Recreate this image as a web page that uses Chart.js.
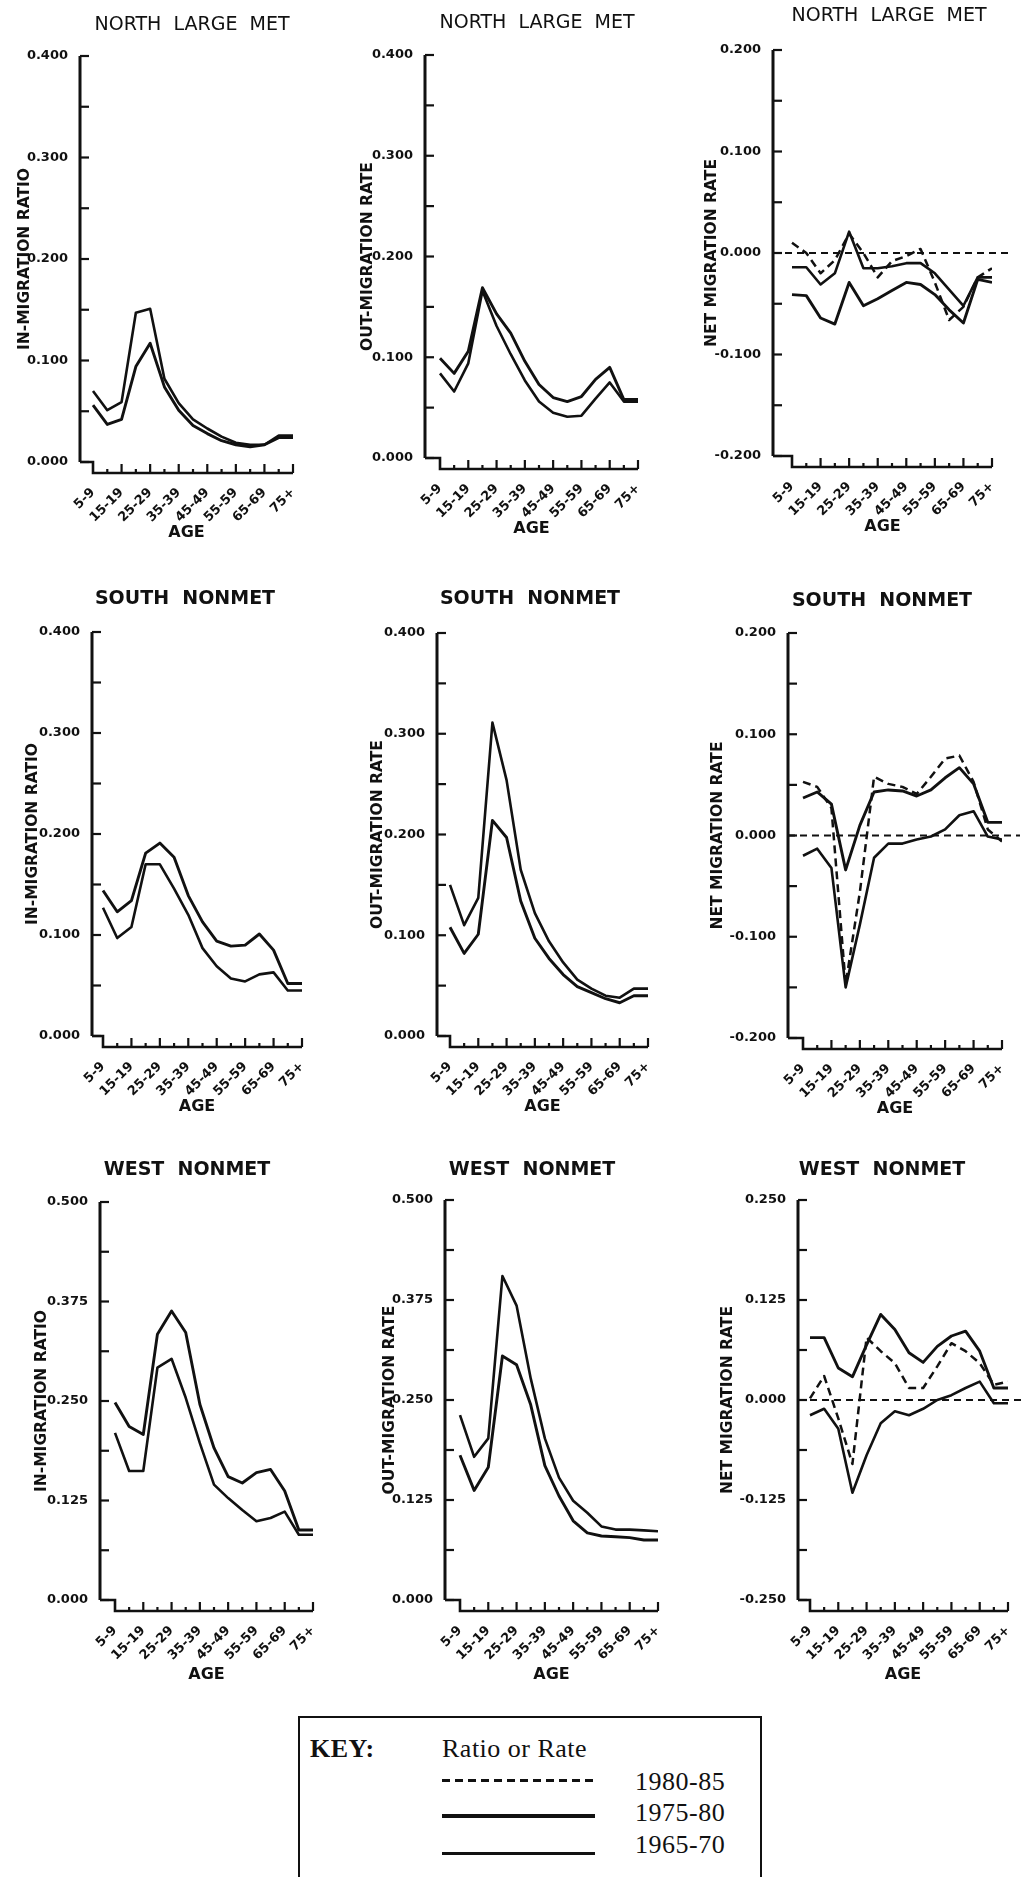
<!DOCTYPE html>
<html>
<head>
<meta charset="utf-8">
<title>Migration by age, 1965-85</title>
<script src="https://cdn.jsdelivr.net/npm/chart.js@4.4.1/dist/chart.umd.min.js"></script>
<style>
  html, body { margin: 0; padding: 0; background: #fff; }
  body { width: 1023px; height: 1877px; position: relative; overflow: hidden; }
  canvas { position: absolute; }
  #key { position: absolute; left: 298px; top: 1716px; width: 460px; height: 220px;
         border: 2px solid #111; border-bottom: none; color: #111;
         font-family: "Liberation Serif", serif; font-size: 26px; letter-spacing: 0.5px; }
  #key div { position: absolute; line-height: 26px; white-space: nowrap; }
  #key .sample { height: 2.5px; width: 153px; background: #111; }
</style>
</head>
<body>
<div id="key"></div>
<script>
// age groups on the x axis (every other one is labelled)
const ageGroups = ['5-9', '10-14', '15-19', '20-24', '25-29', '30-34', '35-39', '40-44',
                   '45-49', '50-54', '55-59', '60-64', '65-69', '70-74', '75+'];
const periods = ['1980-85', '1975-80', '1965-70'];

// y tick labels
const ticksRate = [0, 0.1, 0.2, 0.3, 0.4];
const ticksNet = [-0.2, -0.1, 0, 0.1, 0.2];
const ticksWest = [0, 0.125, 0.25, 0.375, 0.5];
const ticksWestNet = [-0.25, -0.125, 0, 0.125, 0.25];

// North large metro
const nlmIn6570 = [0.070, 0.051, 0.059, 0.147, 0.151, 0.082, 0.058, 0.042, 0.033, 0.025, 0.019, 0.017, 0.017, 0.026, 0.026];
const nlmIn7580 = [0.056, 0.037, 0.042, 0.094, 0.117, 0.074, 0.051, 0.036, 0.028, 0.021, 0.017, 0.015, 0.017, 0.024, 0.024];
const nlmOut7580 = [0.099, 0.084, 0.106, 0.169, 0.143, 0.124, 0.096, 0.073, 0.060, 0.056, 0.061, 0.078, 0.090, 0.058, 0.058];
const nlmOut6570 = [0.084, 0.066, 0.094, 0.166, 0.131, 0.103, 0.077, 0.056, 0.045, 0.041, 0.042, 0.059, 0.075, 0.056, 0.056];
const nlmNet8085 = [0.010, 0.000, -0.020, -0.007, 0.019, 0.000, -0.024, -0.008, -0.003, 0.004, -0.029, -0.066, -0.053, -0.024, -0.015];
const nlmNet6570 = [-0.014, -0.014, -0.031, -0.020, 0.021, -0.015, -0.015, -0.013, -0.010, -0.010, -0.020, -0.036, -0.052, -0.024, -0.024];
const nlmNet7580 = [-0.041, -0.042, -0.064, -0.070, -0.029, -0.052, -0.045, -0.037, -0.029, -0.031, -0.041, -0.056, -0.069, -0.026, -0.029];

// South nonmetro
const snIn7580 = [0.144, 0.123, 0.134, 0.181, 0.191, 0.177, 0.139, 0.113, 0.094, 0.089, 0.090, 0.101, 0.085, 0.052, 0.052];
const snIn6570 = [0.127, 0.097, 0.108, 0.170, 0.170, 0.146, 0.120, 0.087, 0.069, 0.057, 0.054, 0.061, 0.063, 0.045, 0.045];
const snOut6570 = [0.150, 0.110, 0.137, 0.311, 0.254, 0.165, 0.122, 0.094, 0.073, 0.056, 0.047, 0.040, 0.038, 0.047, 0.047];
const snOut7580 = [0.108, 0.082, 0.101, 0.214, 0.197, 0.134, 0.097, 0.077, 0.061, 0.049, 0.043, 0.037, 0.033, 0.040, 0.040];
const snNet8085 = [0.053, 0.048, 0.027, -0.147, -0.056, 0.058, 0.051, 0.048, 0.041, 0.058, 0.076, 0.079, 0.053, 0.006, -0.006];
const snNet7580 = [0.037, 0.043, 0.031, -0.034, 0.010, 0.043, 0.045, 0.044, 0.039, 0.045, 0.057, 0.067, 0.051, 0.013, 0.013];
const snNet6570 = [-0.020, -0.013, -0.032, -0.150, -0.088, -0.022, -0.008, -0.008, -0.004, -0.001, 0.006, 0.020, 0.024, -0.001, -0.004];

// West nonmetro
const wnIn7580 = [0.248, 0.218, 0.208, 0.334, 0.363, 0.336, 0.246, 0.191, 0.155, 0.147, 0.160, 0.164, 0.137, 0.088, 0.088];
const wnIn6570 = [0.210, 0.162, 0.162, 0.292, 0.303, 0.254, 0.197, 0.145, 0.128, 0.113, 0.099, 0.103, 0.111, 0.082, 0.082];
const wnOut6570 = [0.231, 0.179, 0.202, 0.405, 0.368, 0.277, 0.202, 0.153, 0.124, 0.109, 0.092, 0.088, 0.088, 0.087, 0.086];
const wnOut7580 = [0.181, 0.137, 0.166, 0.305, 0.294, 0.244, 0.168, 0.130, 0.099, 0.084, 0.080, 0.079, 0.078, 0.075, 0.075];
const wnNet8085 = [0.002, 0.030, -0.023, -0.080, 0.078, 0.061, 0.046, 0.015, 0.015, 0.042, 0.071, 0.061, 0.046, 0.019, 0.023];
const wnNet7580 = [0.078, 0.078, 0.040, 0.029, 0.069, 0.107, 0.088, 0.059, 0.047, 0.067, 0.080, 0.086, 0.061, 0.015, 0.015];
const wnNet6570 = [-0.019, -0.011, -0.036, -0.116, -0.069, -0.029, -0.014, -0.019, -0.011, 0.000, 0.006, 0.015, 0.023, -0.004, -0.004];

const ink = '#111';
const lineStyle = {
  '1980-85': { width: 2.5, dash: [8, 5] },
  '1975-80': { width: 2.9, dash: [] },
  '1965-70': { width: 2.6, dash: [] }
};

// where each panel sits on the page
const panels = [
  { title: 'NORTH  LARGE  MET', bold: false, yTitle: 'IN-MIGRATION RATIO', yTicks: ticksRate,
    series: [['1965-70', nlmIn6570], ['1975-80', nlmIn7580]],
    box: { axisX: 80, top: 56, bottom: 462, k0: 93, k14: 293, titleX: 192, titleY: 25, labX: 25, ageOff: 71 } },
  { title: 'NORTH  LARGE  MET', bold: false, yTitle: 'OUT-MIGRATION RATE', yTicks: ticksRate,
    series: [['1975-80', nlmOut7580], ['1965-70', nlmOut6570]],
    box: { axisX: 425, top: 55, bottom: 458, k0: 440, k14: 638, titleX: 537, titleY: 23, labX: 368, ageOff: 71 } },
  { title: 'NORTH  LARGE  MET', bold: false, yTitle: 'NET MIGRATION RATE', yTicks: ticksNet, zero: true,
    series: [['1980-85', nlmNet8085], ['1965-70', nlmNet6570], ['1975-80', nlmNet7580]],
    box: { axisX: 773, top: 50, bottom: 456, k0: 792, k14: 992, titleX: 889, titleY: 16, labX: 712, ageOff: 71 } },
  { title: 'SOUTH  NONMET', bold: true, yTitle: 'IN-MIGRATION RATIO', yTicks: ticksRate,
    series: [['1975-80', snIn7580], ['1965-70', snIn6570]],
    box: { axisX: 92, top: 632, bottom: 1036, k0: 103, k14: 302, titleX: 185, titleY: 599, labX: 33, ageOff: 71 } },
  { title: 'SOUTH  NONMET', bold: true, yTitle: 'OUT-MIGRATION RATE', yTicks: ticksRate,
    series: [['1965-70', snOut6570], ['1975-80', snOut7580]],
    box: { axisX: 437, top: 633, bottom: 1036, k0: 450, k14: 648, titleX: 530, titleY: 599, labX: 378, ageOff: 71 } },
  { title: 'SOUTH  NONMET', bold: true, yTitle: 'NET MIGRATION RATE', yTicks: ticksNet, zero: true,
    series: [['1980-85', snNet8085], ['1975-80', snNet7580], ['1965-70', snNet6570]],
    box: { axisX: 788, top: 633, bottom: 1038, k0: 803, k14: 1002, titleX: 882, titleY: 601, labX: 718, ageOff: 71 } },
  { title: 'WEST  NONMET', bold: true, yTitle: 'IN-MIGRATION RATIO', yTicks: ticksWest,
    series: [['1975-80', wnIn7580], ['1965-70', wnIn6570]],
    box: { axisX: 100, top: 1202, bottom: 1600, k0: 115, k14: 313, titleX: 187, titleY: 1170, labX: 42, ageOff: 75 } },
  { title: 'WEST  NONMET', bold: true, yTitle: 'OUT-MIGRATION RATE', yTicks: ticksWest,
    series: [['1965-70', wnOut6570], ['1975-80', wnOut7580]],
    box: { axisX: 445, top: 1200, bottom: 1600, k0: 460, k14: 658, titleX: 532, titleY: 1170, labX: 390, ageOff: 75 } },
  { title: 'WEST  NONMET', bold: true, yTitle: 'NET MIGRATION RATE', yTicks: ticksWestNet, zero: true,
    series: [['1980-85', wnNet8085], ['1975-80', wnNet7580], ['1965-70', wnNet6570]],
    box: { axisX: 798, top: 1200, bottom: 1600, k0: 810, k14: 1008, titleX: 882, titleY: 1170, labX: 728, ageOff: 75 } }
];

// stepped x axis, inward ticks, zero line and panel title
const migAxes = {
  id: 'migAxes',
  beforeDatasetsDraw(chart, args, opts) {
    if (!opts.zero) return;
    const { ctx, chartArea: a, scales: { y } } = chart;
    const pz = y.getPixelForValue(0);
    ctx.save();
    ctx.strokeStyle = ink;
    ctx.lineWidth = 2.2;
    ctx.setLineDash([7, 5]);
    ctx.beginPath();
    ctx.moveTo(a.left, pz);
    ctx.lineTo(a.right + 18, pz);
    ctx.stroke();
    ctx.restore();
  },
  afterDraw(chart, args, opts) {
    const { ctx, chartArea: a, scales: { x, y } } = chart;
    ctx.save();
    ctx.strokeStyle = ink;
    ctx.fillStyle = ink;

    ctx.lineWidth = 3;
    ctx.beginPath();
    ctx.moveTo(a.left, a.top);
    ctx.lineTo(a.left, a.bottom);
    ctx.stroke();

    ctx.lineWidth = 2.2;
    y.ticks.forEach(t => {
      const py = y.getPixelForValue(t.value);
      ctx.beginPath();
      ctx.moveTo(a.left, py);
      ctx.lineTo(a.left + 9, py);
      ctx.stroke();
    });

    const last = ageGroups.length - 1;
    const x0 = x.getPixelForValue(0);
    const xe = x.getPixelForValue(last);
    const yb = a.bottom + 11;
    ctx.lineWidth = 2.6;
    ctx.beginPath();
    ctx.moveTo(a.left, a.bottom);
    ctx.lineTo(x0, a.bottom);
    ctx.lineTo(x0, yb);
    ctx.lineTo(xe, yb);
    ctx.stroke();
    ctx.lineWidth = 2.2;
    for (let i = 1; i <= last; i++) {
      const px = x.getPixelForValue(i);
      ctx.beginPath();
      ctx.moveTo(px, yb);
      ctx.lineTo(px, yb - (i % 2 ? 4 : 9));
      ctx.stroke();
    }

    ctx.font = (opts.bold ? 'bold ' : '') + '19px "DejaVu Sans"';
    ctx.textAlign = 'center';
    ctx.textBaseline = 'middle';
    ctx.fillText(opts.title, opts.titleX, opts.titleY);
    ctx.restore();
  }
};

const tickFont = { family: 'DejaVu Sans', size: 13, weight: 'bold' };

panels.forEach(p => {
  const b = p.box;
  const left = b.axisX - 80;
  const top = b.top - 50;
  const w = b.k14 - b.axisX + 110;
  const h = b.bottom - b.top + 135;
  const cv = document.createElement('canvas');
  cv.width = w; cv.height = h;
  cv.style.left = left + 'px'; cv.style.top = top + 'px';
  cv.style.width = w + 'px'; cv.style.height = h + 'px';
  document.body.appendChild(cv);

  const step = (b.k14 - b.k0) / (ageGroups.length - 1);
  const isMajor = v => p.yTicks.some(m => Math.abs(m - v) < 1e-9);

  new Chart(cv, {
    type: 'line',
    data: {
      datasets: p.series.map(([period, values]) => ({
        label: period,
        data: values.map((v, i) => ({ x: i, y: v })),
        borderColor: ink,
        borderWidth: lineStyle[period].width,
        borderDash: lineStyle[period].dash,
        borderJoinStyle: 'round',
        pointRadius: 0,
        tension: 0,
        fill: false
      }))
    },
    options: {
      responsive: false,
      animation: false,
      devicePixelRatio: 1,
      layout: { padding: { top: 50, right: 30, bottom: 0, left: 0 } },
      plugins: {
        legend: { display: false },
        tooltip: { enabled: false },
        migAxes: { title: p.title, bold: p.bold, zero: !!p.zero,
                   titleX: b.titleX - left, titleY: b.titleY - top }
      },
      scales: {
        x: {
          type: 'linear',
          min: -(b.k0 - b.axisX) / step,
          max: ageGroups.length - 1,
          grid: { display: false },
          border: { display: false },
          afterBuildTicks: s => {
            s.ticks = ageGroups.map((_, i) => i).filter(i => i % 2 === 0).map(v => ({ value: v }));
          },
          afterFit: s => { s.height = 85; },
          ticks: {
            autoSkip: false, minRotation: 45, maxRotation: 45, padding: 15, color: ink,
            font: { family: 'DejaVu Sans', size: 13, weight: 'bold' },
            callback: v => ageGroups[v]
          },
          title: {
            display: true, text: 'AGE', color: ink,
            font: { family: 'DejaVu Sans', size: 16, weight: 'bold' },
            padding: { top: 0, bottom: Math.max(0, 85 - b.ageOff - 9.6) }
          }
        },
        y: {
          min: p.yTicks[0],
          max: p.yTicks[p.yTicks.length - 1],
          grid: { display: false },
          border: { display: false },
          afterBuildTicks: s => {
            const t = [];
            p.yTicks.forEach((v, i) => {
              t.push({ value: v });
              if (i < p.yTicks.length - 1) t.push({ value: (v + p.yTicks[i + 1]) / 2 });
            });
            s.ticks = t;
          },
          afterFit: s => { s.width = 80; },
          ticks: {
            autoSkip: false, padding: 4, color: ink, font: tickFont,
            callback: v => isMajor(v) ? v.toFixed(3) : ''
          },
          title: {
            display: true, text: p.yTitle, color: ink,
            font: { family: 'DejaVu Sans', size: 15.5, weight: 'bold' },
            padding: { top: b.labX - b.axisX + 71, bottom: 0 }
          }
        }
      }
    },
    plugins: [migAxes]
  });
});

// key box
const key = document.getElementById('key');
function keyItem(html, cls, css) {
  const d = document.createElement('div');
  if (cls) d.className = cls;
  d.innerHTML = html;
  Object.assign(d.style, css);
  key.appendChild(d);
}
keyItem('KEY:', '', { left: '10px', top: '18px', fontWeight: 'bold' });
keyItem('Ratio or Rate', '', { left: '142px', top: '18px' });
const sampleTops = [61, 96, 134];
const labelTops = [51, 82, 114];
periods.forEach((per, i) => {
  const st = lineStyle[per];
  const css = { left: '142px', top: sampleTops[i] + 'px' };
  if (st.dash.length) {
    css.background = 'repeating-linear-gradient(to right, #111 0 8px, transparent 8px 13px)';
  }
  if (per === '1975-80') css.height = '4px';
  keyItem('', 'sample', css);
  keyItem(per, '', { left: '335px', top: labelTops[i] + 'px' });
});
</script>
</body>
</html>
